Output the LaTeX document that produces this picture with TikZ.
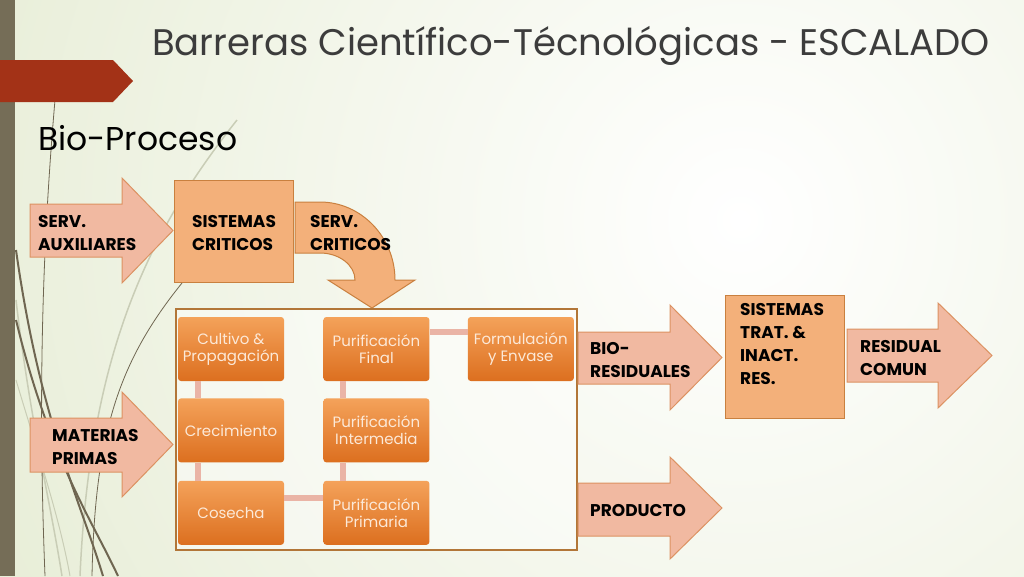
\documentclass[tikz,border=0pt]{standalone}
\usepackage{fontspec}
\setmainfont{Poppins}
\usetikzlibrary{positioning}

\definecolor{bgGreen}{HTML}{DCE5C3}
\definecolor{barBrown}{HTML}{756D57}
\definecolor{bannerRed}{HTML}{A33217}
\definecolor{grassDark}{HTML}{6F6651}
\definecolor{grassLight}{HTML}{C9CDB6}
\definecolor{arrowFill}{HTML}{F1B9A1}
\definecolor{arrowLine}{HTML}{DC9262}
\definecolor{boxFill}{HTML}{F3B07A}
\definecolor{boxLine}{HTML}{C9803F}
\definecolor{frameLine}{HTML}{B27638}
\definecolor{stageTop}{HTML}{F4A25A}
\definecolor{stageBot}{HTML}{DC6F1F}
\definecolor{stageText}{HTML}{FCE9D8}
\definecolor{linkPink}{HTML}{EAB4A6}
\definecolor{titleGray}{HTML}{3C3C3C}

\begin{document}
\begin{tikzpicture}[x=1pt,y=-1pt,
  blockarrow/.style={fill=arrowFill,draw=arrowLine,line width=1pt,line join=miter},
  sysbox/.style={fill=boxFill,draw=boxLine,line width=1pt},
  lbl/.style={font=\bfseries\fontsize{17}{23}\selectfont,align=left,inner sep=0pt,anchor=north west,text=black},
  stage/.style={rounded corners=3pt,top color=stageTop,bottom color=stageBot,minimum width=106pt,minimum height=64pt,
    inner sep=0pt,align=center,text=stageText,font=\fontsize{15}{17}\selectfont},
  link/.style={linkPink,line width=6pt}]

  \useasboundingbox (0,0) rectangle (1024,576);

  % background
  \fill[bgGreen] (0,0) rectangle (1024,576);
  \begin{scope}
    \clip (0,0) rectangle (1024,576);
    \shade[inner color=white,outer color=bgGreen] (740,220) circle (1250);
  \end{scope}

  % grass
  \draw[grassLight,line width=1.5pt] (237,120) .. controls (150,230) and (90,350) .. (80,576);
  \draw[grassLight,line width=1.5pt] (16,300) .. controls (30,420) and (50,500) .. (62,576);
  \draw[grassLight,line width=1pt] (16,380) .. controls (40,460) and (60,520) .. (70,576);
  \draw[grassDark,line width=0.8pt] (55,100) .. controls (42,250) and (38,400) .. (45,576);
  \draw[grassDark,line width=2pt] (16,250) .. controls (40,420) and (80,500) .. (103,576);
  \draw[grassDark,line width=2pt] (16,320) .. controls (50,460) and (92,520) .. (118,576);
  \draw[grassDark,line width=0.8pt] (182,283) .. controls (120,360) and (95,430) .. (92,576);

  % bar and banner
  \fill[barBrown] (0,0) rectangle (15,576);
  \fill[bannerRed] (0,60) -- (113,60) -- (133,81) -- (113,102) -- (0,102) -- cycle;

  % titles
  \node[anchor=base west,inner sep=0pt,text=titleGray,font=\fontsize{37}{40}\selectfont] (title) at (152,55)
    {Barreras Científico-Técnológicas - ESCALADO};
  \node[anchor=base west,inner sep=0pt,text=black,font=\fontsize{33}{38}\selectfont] (subtitle) at (38,150) {Bio-Proceso};

  % arrows on the left
  \draw[blockarrow] (30,204) -- (122,204) -- (122,178) -- (173,230.5) -- (122,283) -- (122,257) -- (30,257) -- cycle;
  \draw[blockarrow] (30,418) -- (122,418) -- (122,392) -- (173,444.5) -- (122,497) -- (122,472) -- (30,472) -- cycle;
  \node[lbl] (servaux) at (38,215) {SERV.\\AUXILIARES};
  \node[lbl] (materias) at (52,429) {MATERIAS\\PRIMAS};

  % sistemas criticos
  \draw[sysbox] (174,180) rectangle (293,282);
  \node[lbl] (sistcrit) at (192,215) {SISTEMAS\\CRITICOS};

  % bent arrow
  \draw[sysbox] (295,202) -- (320,202) .. controls (361,202) and (395,237) .. (395,280)
    -- (415,280) -- (372,308) -- (328,280) -- (355,280)
    .. controls (355,265) and (339,253) .. (320,253) -- (295,253) -- cycle;
  \node[lbl] (servcrit) at (310,215) {SERV.\\CRITICOS};

  % frame
  \draw[frameLine,line width=2pt,fill=white,fill opacity=0.45] (176,309) rectangle (577,550);

  % stages
  \node[stage] (cultivo) at (231,349) {Cultivo \&\\Propagación};
  \node[stage,below=17pt of cultivo] (crecim) {Crecimiento};
  \node[stage,below=18pt of crecim] (cosecha) {Cosecha};
  \node[stage,right=39pt of cosecha] (primaria) {Purificación\\Primaria};
  \node[stage,above=18pt of primaria] (intermedia) {Purificación\\Intermedia};
  \node[stage,above=17pt of intermedia] (final) {Purificación\\Final};
  \node[stage,right=38pt of final] (envase) {Formulación\\y Envase};

  \draw[link] ([xshift=20pt]cultivo.south west) -- ([xshift=20pt]crecim.north west);
  \draw[link] ([xshift=20pt]crecim.south west) -- ([xshift=20pt]cosecha.north west);
  \draw[link] ([yshift=-17pt]cosecha.north east) -- ([yshift=-17pt]primaria.north west);
  \draw[link] ([xshift=20pt]primaria.north west) -- ([xshift=20pt]intermedia.south west);
  \draw[link] ([xshift=20pt]intermedia.north west) -- ([xshift=20pt]final.south west);
  \draw[link] ([yshift=-15pt]final.north east) -- ([yshift=-15pt]envase.north west);

  % outputs
  \draw[blockarrow] (578,332) -- (670,332) -- (670,305) -- (722,357.5) -- (670,410) -- (670,384) -- (578,384) -- cycle;
  \draw[blockarrow] (578,483) -- (670,483) -- (670,457) -- (722,508) -- (670,559) -- (670,536) -- (578,536) -- cycle;
  \draw[sysbox] (725,295) rectangle (844,418);
  \draw[blockarrow] (847,329) -- (938,329) -- (938,303) -- (992,355.5) -- (938,408) -- (938,382) -- (847,382) -- cycle;
  \node[lbl] (biores) at (590,342) {BIO-\\RESIDUALES};
  \node[lbl] (producto) at (590,504) {PRODUCTO};
  \node[lbl] (sisttrat) at (740,303) {SISTEMAS\\TRAT. \&\\INACT.\\RES.};
  \node[lbl] (residual) at (860,340) {RESIDUAL\\COMUN};
\end{tikzpicture}
\end{document}
